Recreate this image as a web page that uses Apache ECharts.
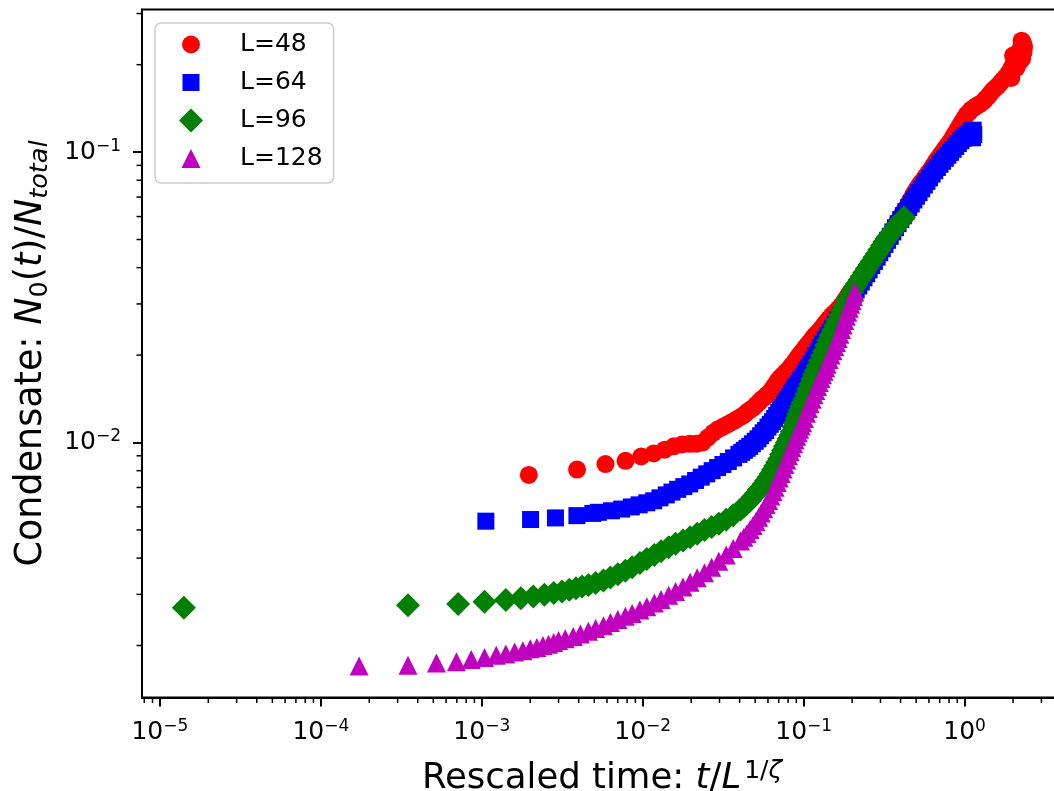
<!DOCTYPE html>
<html><head><meta charset="utf-8">
<script src="https://cdn.jsdelivr.net/npm/echarts@6/dist/echarts.min.js"></script>
<style>html,body{margin:0;padding:0;background:#fff}#c{width:1054px;height:791px}</style>
</head><body><div id="c"></div>
<script>
const seriesNames = ['L=48', 'L=64', 'L=96', 'L=128'];
const seriesColors = ['#ff0000', '#0000ff', '#008000', '#bf00bf'];

const x48 = [0.00196,0.00391,0.00587,0.00782,0.00978,0.0117,0.0137,0.0156,0.0176,0.0196,0.0215,0.0235,0.0254,0.0274,0.0293,0.0313,0.0332,0.0352,0.0372,0.0391,0.0411,0.0430,0.0450,0.0470,0.0489,0.0509,0.053,0.055,0.057,0.059,0.061,0.063,0.065,0.067,0.069,0.071,0.073,0.075,0.077,0.079,0.081,0.083,0.085,0.087,0.089,0.091,0.093,0.095,0.097,0.099,0.102,0.105,0.108,0.111,0.114,0.117,0.120,0.124,0.128,0.132,0.136,0.140,0.144,0.149,0.154,0.159,0.164,0.170,0.176,0.182,0.188,0.195,0.202,0.209,0.216,0.224,0.232,0.240,0.248,0.257,0.266,0.275,0.285,0.295,0.305,0.316,0.327,0.339,0.351,0.363,0.376,0.389,0.403,0.417,0.432,0.447,0.463,0.479,0.496,0.514,0.532,0.551,0.570,0.590,0.611,0.633,0.655,0.678,0.702,0.727,0.753,0.780,0.807,0.836,0.865,0.896,0.927,0.960,0.994,1.03,1.07,1.10,1.14,1.18,1.22,1.26,1.31,1.35,1.40,1.45,1.50,1.55,1.61,1.66,1.72,1.78,1.84,1.91,1.97,2.02,2.08,2.14,2.20,2.26,2.30,2.34,2.32,2.28,2.26,2.33,2.10,2.20,1.95,2.00];
const y48 = [0.00773,0.00807,0.00843,0.00865,0.00895,0.00917,0.00945,0.0097,0.00985,0.0099,0.0099,0.0100,0.0104,0.0108,0.0111,0.0113,0.0115,0.0117,0.0119,0.0121,0.0123,0.0125,0.0128,0.0130,0.0132,0.0135,0.0138,0.0141,0.0143,0.0146,0.0148,0.0151,0.0155,0.0159,0.0163,0.0166,0.0169,0.0171,0.0174,0.0176,0.0179,0.0182,0.0185,0.0188,0.0191,0.0195,0.0198,0.0201,0.0204,0.0207,0.0212,0.0216,0.0220,0.0224,0.0229,0.0233,0.0236,0.0241,0.0246,0.0251,0.0257,0.0262,0.0267,0.0273,0.0278,0.0283,0.0288,0.0295,0.0302,0.0311,0.0320,0.0329,0.0337,0.0345,0.0354,0.0364,0.0374,0.0385,0.0396,0.0407,0.0419,0.0430,0.0443,0.0457,0.0471,0.0487,0.0500,0.0515,0.0530,0.0547,0.0565,0.0582,0.0602,0.0622,0.0642,0.0663,0.0688,0.0712,0.0735,0.0758,0.0780,0.0800,0.0822,0.0843,0.0866,0.0892,0.0918,0.0945,0.0970,0.0998,0.1025,0.1053,0.1080,0.1113,0.1148,0.1185,0.1225,0.1265,0.1305,0.1345,0.1375,0.1400,0.1420,0.1440,0.1455,0.1470,0.1495,0.1525,0.1555,0.1595,0.1630,0.1660,0.1690,0.1725,0.1765,0.1800,0.1840,0.1900,0.1960,0.2030,0.2100,0.2160,0.2240,0.2330,0.2380,0.2320,0.2200,0.2100,0.2420,0.2260,0.1950,0.2050,0.1800,0.2150];

const x64 = [0.00106,0.00201,0.00287,0.0039,0.0049,0.0053,0.0064,0.0074,0.0085,0.0095,0.0106,0.0117,0.0128,0.0140,0.0152,0.0165,0.0180,0.0196,0.0213,0.0231,0.0250,0.0270,0.0292,0.0315,0.0340,0.0367,0.0396,0.0412,0.0428,0.0445,0.0462,0.048,0.050,0.052,0.054,0.056,0.058,0.060,0.062,0.064,0.066,0.068,0.070,0.072,0.074,0.076,0.078,0.080,0.082,0.084,0.086,0.088,0.090,0.093,0.096,0.099,0.102,0.105,0.108,0.111,0.115,0.119,0.123,0.127,0.131,0.136,0.141,0.146,0.151,0.157,0.163,0.169,0.175,0.182,0.189,0.196,0.204,0.212,0.220,0.228,0.237,0.246,0.255,0.265,0.275,0.286,0.297,0.308,0.320,0.332,0.345,0.358,0.372,0.386,0.401,0.416,0.432,0.449,0.466,0.484,0.502,0.521,0.541,0.562,0.583,0.605,0.628,0.652,0.677,0.703,0.730,0.758,0.787,0.817,0.848,0.880,0.914,0.949,0.985,1.02,1.06,1.10,1.13,1.14,1.12];
const y64 = [0.00536,0.00543,0.0055,0.0056,0.0057,0.00575,0.00582,0.0059,0.0060,0.0061,0.0062,0.0063,0.00645,0.0066,0.00675,0.0069,0.00705,0.0072,0.0074,0.0076,0.0078,0.0080,0.0082,0.0084,0.0086,0.00885,0.0091,0.00925,0.0094,0.00955,0.0097,0.0099,0.0101,0.0103,0.01055,0.0108,0.0110,0.0113,0.01155,0.0118,0.0121,0.0124,0.0127,0.0130,0.0132,0.0135,0.0138,0.0141,0.0144,0.0147,0.0150,0.0153,0.0156,0.0160,0.0164,0.0168,0.0172,0.0177,0.0181,0.0186,0.0192,0.0199,0.0206,0.0212,0.0218,0.0226,0.0233,0.0240,0.0247,0.0255,0.0264,0.0273,0.0282,0.0292,0.0302,0.0313,0.0324,0.0335,0.0346,0.0357,0.0369,0.0381,0.0393,0.0407,0.0420,0.0435,0.0450,0.0465,0.0481,0.0497,0.0513,0.0531,0.0549,0.0567,0.0586,0.0604,0.0624,0.0644,0.0663,0.0684,0.0705,0.0725,0.0747,0.0770,0.0793,0.0815,0.0840,0.0862,0.0885,0.0908,0.0930,0.0952,0.0975,0.0998,0.1022,0.1046,0.1070,0.1094,0.1116,0.1138,0.1160,0.1178,0.1190,0.1150,0.1120];

const x96 = [0.0000141,0.000348,0.000713,0.00104,0.00141,0.00175,0.00209,0.00245,0.0028,0.00315,0.0035,0.00385,0.0042,0.0046,0.0051,0.0057,0.0063,0.0070,0.0078,0.0086,0.0096,0.0106,0.0118,0.0130,0.0145,0.0160,0.0178,0.0197,0.0218,0.0242,0.0268,0.0297,0.0330,0.0365,0.0405,0.0425,0.0445,0.0465,0.0485,0.0505,0.0525,0.0545,0.0565,0.0585,0.0605,0.0625,0.0645,0.0665,0.0685,0.0705,0.0725,0.0745,0.0765,0.0785,0.0805,0.0825,0.0845,0.0865,0.0885,0.0905,0.0925,0.0945,0.0965,0.0985,0.101,0.104,0.107,0.110,0.113,0.116,0.119,0.122,0.126,0.130,0.134,0.138,0.142,0.147,0.152,0.157,0.162,0.168,0.174,0.180,0.186,0.193,0.200,0.207,0.214,0.222,0.230,0.238,0.247,0.256,0.265,0.275,0.285,0.295,0.306,0.317,0.328,0.340,0.352,0.364,0.377,0.390,0.403,0.412,0.420];
const y96 = [0.0027,0.00275,0.00278,0.00283,0.00287,0.00291,0.00295,0.00299,0.00303,0.00307,0.00311,0.00315,0.00319,0.00323,0.00328,0.00335,0.00343,0.00352,0.00362,0.00372,0.00385,0.00397,0.0041,0.00422,0.00436,0.00448,0.0046,0.00472,0.00485,0.0050,0.00512,0.00525,0.00542,0.00562,0.00588,0.00602,0.00616,0.00632,0.0065,0.00668,0.00686,0.00702,0.0072,0.0074,0.0076,0.00782,0.00805,0.0083,0.00855,0.0088,0.0091,0.0094,0.0097,0.0100,0.0103,0.0106,0.0109,0.0113,0.0117,0.0121,0.0125,0.0129,0.0133,0.0137,0.0141,0.0147,0.0153,0.0159,0.0165,0.0171,0.0177,0.0183,0.0191,0.0199,0.0207,0.0216,0.0225,0.0234,0.0243,0.0253,0.0263,0.0274,0.0286,0.0297,0.0307,0.0318,0.0330,0.0342,0.0352,0.0363,0.0374,0.0385,0.0397,0.0409,0.0421,0.0434,0.0447,0.0461,0.0476,0.0490,0.0503,0.0517,0.0529,0.0542,0.0555,0.0567,0.0580,0.0588,0.0597];

const x128 = [0.000173,0.000348,0.000523,0.000696,0.00086,0.00104,0.00123,0.00141,0.0016,0.0018,0.0020,0.0022,0.0024,0.0026,0.0028,0.0030,0.0033,0.0037,0.0041,0.0046,0.0051,0.0057,0.0063,0.0070,0.0078,0.0086,0.0096,0.0106,0.0118,0.0130,0.0145,0.0160,0.0178,0.0197,0.0218,0.0242,0.0268,0.0297,0.0330,0.0365,0.0405,0.0425,0.0445,0.0465,0.0485,0.0505,0.0525,0.0545,0.0565,0.0585,0.0605,0.0625,0.0645,0.0665,0.0685,0.0705,0.0725,0.0745,0.0765,0.0785,0.0805,0.0825,0.0845,0.0865,0.0885,0.0905,0.0925,0.0945,0.0965,0.0985,0.101,0.104,0.107,0.110,0.113,0.116,0.119,0.122,0.125,0.128,0.131,0.134,0.137,0.140,0.144,0.148,0.152,0.156,0.160,0.164,0.168,0.172,0.176,0.180,0.184,0.188,0.192,0.196,0.200,0.204,0.208];
const y128 = [0.0017,0.00171,0.00174,0.00176,0.00179,0.00182,0.00185,0.00187,0.0019,0.00192,0.00195,0.00197,0.0020,0.00202,0.00205,0.00208,0.00211,0.00215,0.00219,0.00224,0.00229,0.00234,0.0024,0.00246,0.00252,0.00258,0.00265,0.00272,0.0028,0.00288,0.00298,0.00307,0.00318,0.0033,0.00342,0.00356,0.00372,0.0039,0.0041,0.00432,0.00458,0.00472,0.00486,0.00502,0.00518,0.00535,0.00553,0.00572,0.00592,0.00612,0.00632,0.00655,0.00678,0.00702,0.00728,0.00755,0.00782,0.0081,0.0084,0.0087,0.0090,0.0093,0.0096,0.0099,0.0102,0.0105,0.0108,0.0111,0.0114,0.0117,0.0121,0.0126,0.0131,0.0136,0.0141,0.0146,0.0151,0.0156,0.0161,0.0166,0.0171,0.0176,0.0181,0.0186,0.0193,0.0200,0.0207,0.0214,0.0221,0.0228,0.0236,0.0245,0.0254,0.0263,0.0272,0.0281,0.0290,0.0299,0.0308,0.0318,0.0330];

const xSeries = [x48, x64, x96, x128];
const ySeries = [y48, y64, y96, y128];
const symbols = ['circle', 'rect', 'diamond', 'triangle'];
const symbolSizes = [18, 17, 24, 19];
// legend icons: each marker at its plot size inside a common 24x24 box
const legendIcons = [
  'path://M0,0M24,24M3,12A9,9 0 1,0 21,12A9,9 0 1,0 3,12Z',
  'path://M0,0M24,24M3.5,3.5L20.5,3.5L20.5,20.5L3.5,20.5Z',
  'path://M12,0L24,12L12,24L0,12Z',
  'path://M0,0M24,24M12,2.5L21.5,21.5L2.5,21.5Z'
];

const xMin = Math.pow(10, -5.111), xMax = Math.pow(10, 0.605);
const yMin = Math.pow(10, -2.878), yMax = Math.pow(10, -0.509);

const FONT = 'DejaVu Sans';

// minor tick positions (2..9 x 10^k) inside the axis ranges
function minorTicks(lo, hi) {
  const out = [];
  for (let e = Math.floor(Math.log10(lo)); e <= Math.ceil(Math.log10(hi)); e++) {
    for (let k = 2; k <= 9; k++) {
      const v = k * Math.pow(10, e);
      if (v >= lo && v <= hi) out.push(v);
    }
  }
  return out;
}
const minorX = minorTicks(xMin, xMax);
const minorY = minorTicks(yMin, yMax);

function powLabel(v) {
  const e = Math.log10(v);
  const r = Math.round(e);
  if (Math.abs(e - r) > 1e-6) return '';
  const s = String(r).replace('-', '−');
  return '{b|10}{s|' + s + '}';
}
const labelRich = {
  b: {fontSize: 25, fontFamily: FONT, color: '#000', lineHeight: 29},
  s: {fontSize: 17, fontFamily: FONT, color: '#000', lineHeight: 19, padding: [0, 0, 11, 0]}
};

const chart = echarts.init(document.getElementById('c'), null, {renderer: 'canvas'});

const scatterSeries = seriesNames.map((name, i) => ({
  name: name,
  type: 'scatter',
  symbol: symbols[i],
  symbolSize: symbolSizes[i],
  itemStyle: {color: seriesColors[i], opacity: 1},
  emphasis: {disabled: true},
  data: xSeries[i].map((x, j) => [x, ySeries[i][j]]),
  z: 2 + i * 0.01
}));

const minorXSeries = {
  type: 'custom', silent: true, clip: false, z: 5,
  data: minorX.map(v => [v, yMin]),
  encode: {x: 0, y: 1},
  renderItem: (params, api) => {
    const cs = params.coordSys;
    const px = api.coord([api.value(0), yMin])[0];
    const y0 = cs.y + cs.height;
    return {type: 'line', shape: {x1: px, y1: y0, x2: px, y2: y0 + 5.5}, style: {stroke: '#000', lineWidth: 1.5}};
  }
};
const minorYSeries = {
  type: 'custom', silent: true, clip: false, z: 5,
  data: minorY.map(v => [xMin, v]),
  encode: {x: 0, y: 1},
  renderItem: (params, api) => {
    const cs = params.coordSys;
    const py = api.coord([xMin, api.value(1)])[1];
    const x0 = cs.x;
    return {type: 'line', shape: {x1: x0, y1: py, x2: x0 - 5.5, y2: py}, style: {stroke: '#000', lineWidth: 1.5}};
  }
};

chart.setOption({
  animation: false,
  backgroundColor: '#ffffff',
  grid: {left: 142, top: 9.5, right: -8, bottom: 93.5, containLabel: false, outerBoundsMode: 'none',
         show: true, borderColor: '#000', borderWidth: 2, backgroundColor: 'transparent'},
  legend: {
    data: seriesNames.map((n, i) => ({name: n, icon: legendIcons[i]})),
    orient: 'vertical', left: 155, top: 23,
    itemWidth: 24, itemHeight: 24, itemGap: 13,
    padding: [9, 11, 12, 24],
    backgroundColor: 'rgba(255,255,255,0.8)',
    borderColor: '#cccccc', borderWidth: 1.5, borderRadius: 6,
    textStyle: {fontSize: 25, fontFamily: FONT, color: '#000', lineHeight: 24, padding: [0, 0, 0, 32]},
    selectedMode: false
  },
  xAxis: {
    type: 'log', logBase: 10, min: xMin, max: xMax,
    splitLine: {show: false},
    axisLine: {show: true, lineStyle: {color: '#000', width: 2}},
    axisTick: {show: true, length: 9, lineStyle: {color: '#000', width: 2}},
    axisLabel: {formatter: powLabel, rich: labelRich, margin: 20, showMinLabel: false, showMaxLabel: false, hideOverlap: false},
    name: '{r|Rescaled time: }{i|t}{r|/}{i|L}{s|1/}{si|ζ}',
    nameLocation: 'middle', nameGap: 60,
    nameTextStyle: {rich: {
      r: {fontSize: 35.5, fontFamily: FONT, color: '#000', lineHeight: 42},
      i: {fontSize: 35.5, fontFamily: FONT, fontStyle: 'italic', color: '#000', lineHeight: 42},
      s: {fontSize: 25, fontFamily: FONT, color: '#000', lineHeight: 29, padding: [0, 0, 15, 3]},
      si: {fontSize: 25, fontFamily: FONT, fontStyle: 'italic', color: '#000', lineHeight: 29, padding: [0, 0, 15, 0]}
    }}
  },
  yAxis: {
    type: 'log', logBase: 10, min: yMin, max: yMax,
    splitLine: {show: false},
    axisLine: {show: true, lineStyle: {color: '#000', width: 2}},
    axisTick: {show: true, length: 9, lineStyle: {color: '#000', width: 2}},
    axisLabel: {formatter: powLabel, rich: labelRich, margin: 21, showMinLabel: false, showMaxLabel: false, hideOverlap: false},
    name: '{r|Condensate: }{i|N}{sub|0}{r|(}{i|t}{r|)/}{i|N}{subi|total}',
    nameLocation: 'middle', nameGap: 84, nameRotate: 90,
    nameTextStyle: {rich: {
      r: {fontSize: 36.5, fontFamily: FONT, color: '#000', lineHeight: 42},
      i: {fontSize: 36.5, fontFamily: FONT, fontStyle: 'italic', color: '#000', lineHeight: 42},
      sub: {fontSize: 25.5, fontFamily: FONT, color: '#000', lineHeight: 29, padding: [17, 0, 0, 0]},
      subi: {fontSize: 25.5, fontFamily: FONT, fontStyle: 'italic', color: '#000', lineHeight: 29, padding: [17, 0, 0, 0]}
    }}
  },
  series: scatterSeries.concat([minorXSeries, minorYSeries])
});
</script>
</body></html>
